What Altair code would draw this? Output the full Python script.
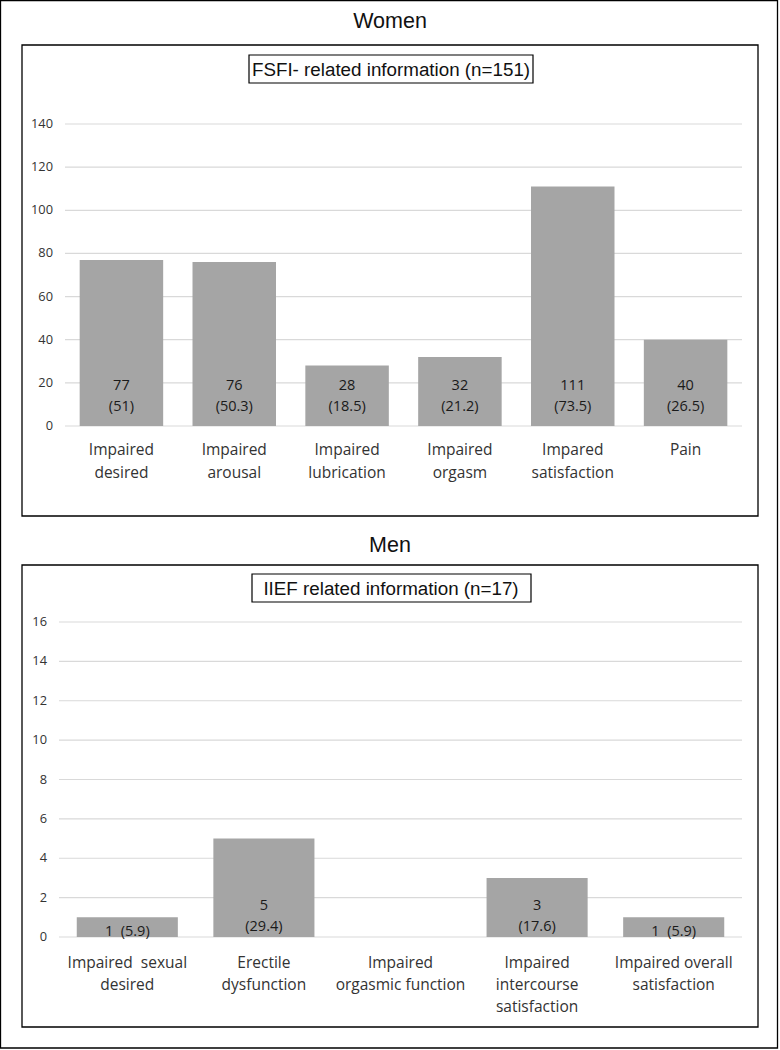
import altair as alt
import pandas as pd

# ---------------- data ----------------
women_categories = ["Impaired\ndesired", "Impaired\narousal", "Impaired\nlubrication",
                    "Impaired\norgasm", "Impared\nsatisfaction", "Pain"]
women_counts = [77, 76, 28, 32, 111, 40]
women_labels = ["77\n(51)", "76\n(50.3)", "28\n(18.5)", "32\n(21.2)", "111\n(73.5)", "40\n(26.5)"]
women_ticks = [0, 20, 40, 60, 80, 100, 120, 140]

men_categories = ["Impaired\u00a0 sexual\ndesired", "Erectile\ndysfunction", "Impaired\norgasmic function",
                  "Impaired\nintercourse\nsatisfaction", "Impaired overall\nsatisfaction"]
men_counts = [1, 5, 0, 3, 1]
men_labels = ["1\u00a0 (5.9)", "5\n(29.4)", "", "3\n(17.6)", "1\u00a0 (5.9)"]
men_ticks = [0, 2, 4, 6, 8, 10, 12, 14, 16]

# ---------------- style ----------------
BAR = "#a5a5a5"
GRID = "#d9d9d9"
LABEL_FONT = "Open Sans"
TITLE_FONT = "Liberation Sans"
W, H = 780, 1050


def one():
    return pd.DataFrame({"k": [0]})


def box(x, x2, y, y2, w=1.3):
    return alt.Chart(one()).mark_rect(filled=False, fillOpacity=0, stroke="black", strokeWidth=w).encode(
        x=alt.value(x), x2=alt.value(x2), y=alt.value(y), y2=alt.value(y2))


def label(text, x, y, size):
    return alt.Chart(one()).mark_text(text=text, fontSize=size, font=TITLE_FONT, color="#111111",
                                      fontWeight="normal", align="center", baseline="middle").encode(
        x=alt.value(x), y=alt.value(y))


def panel(cats, counts, labels, ticks, ymax, xr, yr, xlab_y, xlab_lh, dy_multi, dy_single, ytick_x):
    df = pd.DataFrame({"cat": cats, "n": counts, "lab": labels, "base": [0] * len(cats)})
    tk = pd.DataFrame({"t": ticks})
    xs = alt.Scale(type="band", domain=cats, range=xr, paddingInner=0.26, paddingOuter=0.13)
    ys = alt.Scale(domain=[0, ymax], range=yr, nice=False, zero=True)

    grid = alt.Chart(tk).mark_rule(color=GRID, strokeWidth=1.2).encode(
        y=alt.Y("t:Q", scale=ys, axis=None), x=alt.value(xr[0]), x2=alt.value(xr[1]))
    ytl = alt.Chart(tk).mark_text(font=LABEL_FONT, fontSize=12.8, color="#333333",
                                  align="right", baseline="middle").encode(
        y=alt.Y("t:Q", scale=ys, axis=None), x=alt.value(ytick_x), text="t:Q")
    bars = alt.Chart(df).mark_bar(color=BAR).encode(
        x=alt.X("cat:N", scale=xs, axis=None), y=alt.Y("n:Q", scale=ys, axis=None))
    multi = alt.Chart(df).transform_filter("indexof(datum.lab, '\\n') >= 0").mark_text(
        fontSize=14.5, font=LABEL_FONT, color="#1a1a1a", baseline="alphabetic", lineBreak="\n",
        lineHeight=21, dy=dy_multi).encode(
        x=alt.X("cat:N", scale=xs, axis=None), y=alt.Y("base:Q", scale=ys, axis=None), text="lab:N")
    single = alt.Chart(df).transform_filter(
        "indexof(datum.lab, '\\n') < 0 && length(datum.lab) > 0").mark_text(
        fontSize=14.5, font=LABEL_FONT, color="#1a1a1a", baseline="alphabetic", dy=dy_single).encode(
        x=alt.X("cat:N", scale=xs, axis=None), y=alt.Y("base:Q", scale=ys, axis=None), text="lab:N")
    xl = alt.Chart(df).mark_text(fontSize=15.5, font=LABEL_FONT, color="#333333", baseline="alphabetic",
                                 lineBreak="\n", lineHeight=xlab_lh).encode(
        x=alt.X("cat:N", scale=xs, axis=None), y=alt.value(xlab_y), text="cat:N")
    return [grid, ytl, bars, multi, single, xl]


decor = [
    box(0.5, 777.5, 0.5, 1048, w=1.3),                 # outer frame
    box(22, 758, 45, 516),                             # women frame
    box(249, 533, 55, 83, w=1.2),                      # women subtitle frame
    box(22, 758, 565, 1027),                           # men frame
    box(252, 531, 574, 602, w=1.2),                    # men subtitle frame
    label("Women", 390, 22, 21.5),
    label("FSFI- related information (n=151)", 391, 69.5, 18.8),
    label("Men", 390, 546, 21.5),
    label("IIEF related information (n=17)", 391, 588.5, 18.8),
]

women_layers = panel(women_categories, women_counts, women_labels, women_ticks, 140,
                     [65, 742], [426, 124], 455, 23, -36, -3, 53)
men_layers = panel(men_categories, men_counts, men_labels, men_ticks, 16,
                   [59, 742], [937, 622], 968, 22, -27, -1, 47)

chart = alt.layer(*decor, *women_layers, *men_layers).resolve_scale(
    x="independent", y="independent"
).properties(
    width=W, height=H, padding=0, background="white",
    autosize=alt.AutoSizeParams(type="none", contains="padding")
).configure_view(stroke=None)

chart.save("out.html", embed_options={"renderer": "svg", "actions": False})
